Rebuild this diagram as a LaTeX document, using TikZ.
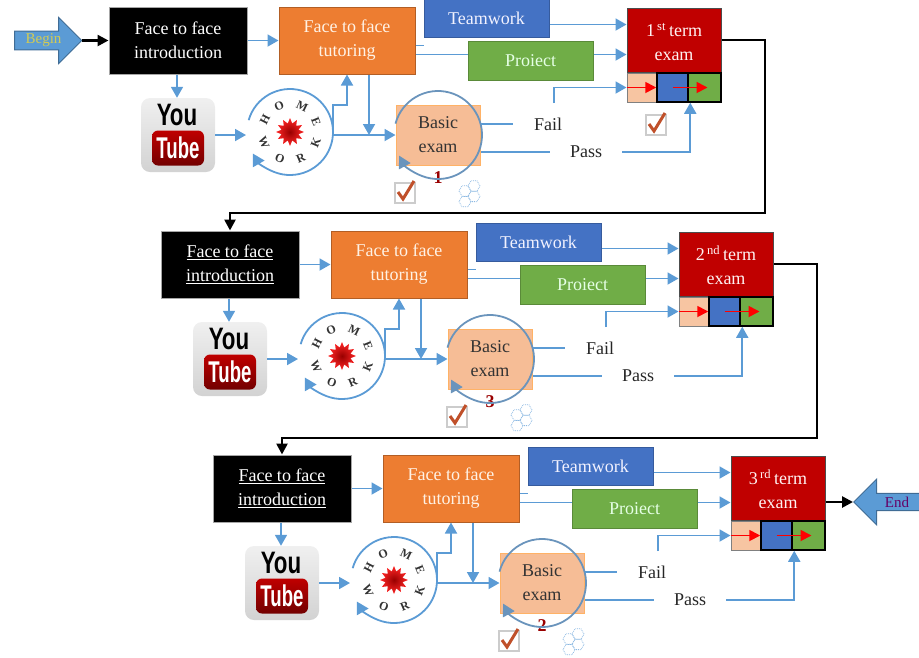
\documentclass[tikz,border=0pt]{standalone}
\usepackage{fontspec}
\setmainfont{Liberation Serif}
\newfontfamily\tubefont{Liberation Sans}
\usetikzlibrary{arrows.meta,calc,shapes.geometric,shapes.arrows}
\definecolor{linkblue}{HTML}{5B9BD5}
\definecolor{ringblue}{HTML}{6A94BC}
\definecolor{tutorfill}{HTML}{ED7D31}
\definecolor{teamfill}{HTML}{4472C4}
\definecolor{projectfill}{HTML}{70AD47}
\definecolor{examfill}{HTML}{C00000}
\definecolor{basicfill}{HTML}{F4B183}
\definecolor{tickred}{HTML}{C0502A}
\tikzset{
    txt/.style={font=\fontsize{18}{24}\selectfont, align=center, inner sep=0pt},
    blockbox/.style={txt, draw, line width=1pt, minimum height=#1},
    introbox/.style={blockbox=67, fill=black, draw=gray!70, text=white, minimum width=138},
    tutorbox/.style={blockbox=67, fill=tutorfill, draw=tutorfill!75!black, text=orange!10, minimum width=136},
    teambox/.style={blockbox=38, fill=teamfill, draw=teamfill!80!black, text=blue!5, minimum width=125},
    projectbox/.style={blockbox=39, fill=projectfill, draw=projectfill!80!black, text=green!10, minimum width=125},
    exambox/.style={blockbox=64, fill=examfill, draw=black!70, text=red!5, minimum width=94},
    cellbox/.style={draw=black, line width=1.5pt, minimum height=29, inner sep=0pt},
    basicbox/.style={blockbox=60, fill=basicfill!85!white, draw=orange!60, text=black!80, minimum width=84},
    link/.style={draw=linkblue, line width=1.8pt},
    linkto/.style={link, -{Triangle[length=11pt,width=12pt]}},
    ring/.style={draw=linkblue, line width=1.8pt, -{Triangle[length=12pt,width=13pt]}},
    redto/.style={draw=red, line width=1.8pt, -{Triangle[length=11pt,width=11pt]}},
    blackto/.style={draw=black, line width=2.5pt, -{Triangle[length=11pt,width=11pt]}},
    wordtxt/.style={txt, text=black!85},
    hwletter/.style={font=\fontsize{12}{12}\selectfont\bfseries, inner sep=0pt, text=black!80},
    hexline/.style={draw=linkblue!70, line width=0.8pt, densely dotted},
    tickmark/.pic={
        \draw[draw=gray!40, fill=white, line width=1.5pt] (-10,-10) rectangle (10,10);
        \draw[draw=tickred, line width=3pt] (-7,1) -- (-2,-6) -- (9,12);
    },
    hexcells/.pic={
        \foreach \hx/\hy in {3/8, -6/3, 3/-2.4, -6/-7.6}
            \draw[hexline] (\hx,\hy) +(0:6) -- +(60:6) -- +(120:6) -- +(180:6) -- +(240:6) -- +(300:6) -- cycle;
    },
}
\begin{document}
\begin{tikzpicture}[x=1pt, y=1pt]
    \useasboundingbox (0,0) rectangle (919,-657);

    % one row of blocks for each term
    \foreach \row/\dx/\dy/\ord/\num/\introfmt in {1/0/0/st/1/\mbox, 2/52/224/nd/3/\underline, 3/104/448/rd/2/\underline} {
        \begin{scope}[shift={(\dx,-\dy)}]
            \node[introbox] (intro\row) at (178,-40.5) {\introfmt{Face to face}\\\introfmt{introduction}};
            \node[tutorbox] (tutor\row) at (347,-40.5) {Face to face\\tutoring};
            \node[teambox] (team\row) at (486.5,-18.5) {Teamwork};
            \node[projectbox] (project\row) at (530.5,-60.5) {Proiect};
            \node[exambox] (exam\row) at (674,-40) {\strut\row\textsuperscript{\,\ord}\,term\\exam};
            \node[cellbox, fill=basicfill!75!white, draw=gray, line width=1pt, minimum width=30] (cella\row) at (642,-87.5) {};
            \node[cellbox, fill=teamfill, minimum width=31] (cellb\row) at (672.5,-87.5) {};
            \node[cellbox, fill=projectfill, minimum width=33] (cellc\row) at (704.5,-87.5) {};
            \node[basicbox] (basic\row) at (438,-135) {Basic\\exam};
            \node[wordtxt, minimum width=70] (fail\row) at (548,-124) {Fail};
            \node[wordtxt, minimum width=72] (pass\row) at (586,-152) {Pass};
            \node[font=\fontsize{18}{18}\selectfont\bfseries, text=red!60!black, inner sep=0pt] (num\row) at (438,-178) {\num};

            % youtube logo
            \node[draw=none, rounded corners=9pt, minimum size=74, inner sep=0pt, top color=gray!12, bottom color=gray!35] (tube\row) at (178,-135) {};
            \node[font=\tubefont\fontsize{31}{31}\selectfont\bfseries, inner sep=0pt] (you\row) at (177,-115) {\scalebox{0.72}[1]{You}};
            \node[rounded corners=6pt, minimum width=52, minimum height=35, inner sep=0pt, top color=red!75!black, bottom color=red!45!black,
                font=\tubefont\fontsize{30}{30}\selectfont\bfseries, text=white] (tubered\row) at (178,-148) {\scalebox{0.62}[1]{Tube}};

            % homework ring
            \node[star, star points=12, star point ratio=1.6, minimum size=28, inner sep=0pt, inner color=red!60!black, outer color=red!85!white] (burst\row) at (290,-132) {};
            \foreach \letter/\ang/\turn [count=\k] in {H/153/63, O/113/23, M/64/-26, E/22/-68, K/-23/67, R/-67/23, O/-111/-21, W/-158/-68}
                \node[hwletter, rotate=\turn] (hw\row-\k) at ($(burst\row)+(\ang:28)$) {\letter};
            \draw[ring] (burst\row) ++(164:43) arc[start angle=164, end angle=-150, radius=43];
            \draw[ring, draw=ringblue] (basic\row) ++(165:44) arc[start angle=165, end angle=-152, radius=44];

            \coordinate (hwin\row) at (246,-135);
            \coordinate (hwout\row) at (333,-135);
            \coordinate (kink\row) at (333,-105);
            \coordinate (failup\row) at (554,-103);

            \draw[linkto] (intro\row) -- (tutor\row);
            \draw[linkto] (intro\row.south -| you\row) -- (tube\row.north -| you\row);
            \draw[linkto] (tube\row.east) -- (hwin\row);
            \draw[linkto] (hwout\row) -- (basic\row.west);
            \draw[linkto] (hwout\row) -- (kink\row) -| (tutor\row.south);
            \draw[linkto] ([xshift=22pt]tutor\row.south) -- ([xshift=22pt]tutor\row.south |- hwout\row);
            \draw[link] ([yshift=-5pt]tutor\row.east) -- ([yshift=-5pt]tutor\row.east -| team\row.west);
            \draw[linkto] ([yshift=-6pt]team\row.east) -- ([yshift=-6pt]team\row.east -| exam\row.west);
            \draw[link] ([yshift=6pt]project\row.west -| tutor\row.east) -- ([yshift=6pt]project\row.west);
            \draw[linkto] ([yshift=6pt]project\row.east) -- ([yshift=6pt]project\row.east -| exam\row.west);
            \draw[link] ([yshift=11pt]basic\row.east) -- (fail\row.west);
            \draw[linkto] (failup\row) |- (cella\row.west);
            \draw[link] ([yshift=-17pt]basic\row.east) -- (pass\row.west);
            \draw[linkto] (pass\row.east) -| ([xshift=3pt]cellc\row.south west);
            \draw[redto] (cella\row.west) -- (cellb\row.west);
            \draw[redto] (cellb\row.center) -- ([xshift=3pt]cellc\row.center);

            \pic at (405,-193) {tickmark};
            \pic at (471,-194) {hexcells};
        \end{scope}
    }
    \pic at (656,-125) {tickmark};

    % begin, end and the links between the rows
    \node[single arrow, draw=linkblue!70!black, fill=linkblue, line width=1pt, minimum height=67, minimum width=46, single arrow head extend=11.5pt,
        single arrow head indent=0pt, inner sep=1pt, font=\fontsize{15}{15}\selectfont, text=yellow!60!gray] (begin) at (43.5,-40.5) {Begin};
    \node[single arrow, shape border rotate=180, draw=linkblue!70!black, fill=linkblue, line width=1pt, minimum height=67, minimum width=46, single arrow head extend=11.5pt,
        inner sep=1pt, font=\fontsize{15}{15}\selectfont, text=violet!80!black] (end) at (891.5,-502) {\hspace{11pt}End};
    \coordinate (turn1) at (765,-213);
    \coordinate (turn2) at (817,-438);

    \draw[blackto] (begin.tip) -- (intro1.west);
    \draw[blackto] (exam1.east) -| (turn1) -| (intro2.north);
    \draw[blackto] (exam2.east) -| (turn2) -| (intro3.north);
    \draw[blackto] (end.tip -| exam3.east) -- (end.tip);
\end{tikzpicture}
\end{document}
